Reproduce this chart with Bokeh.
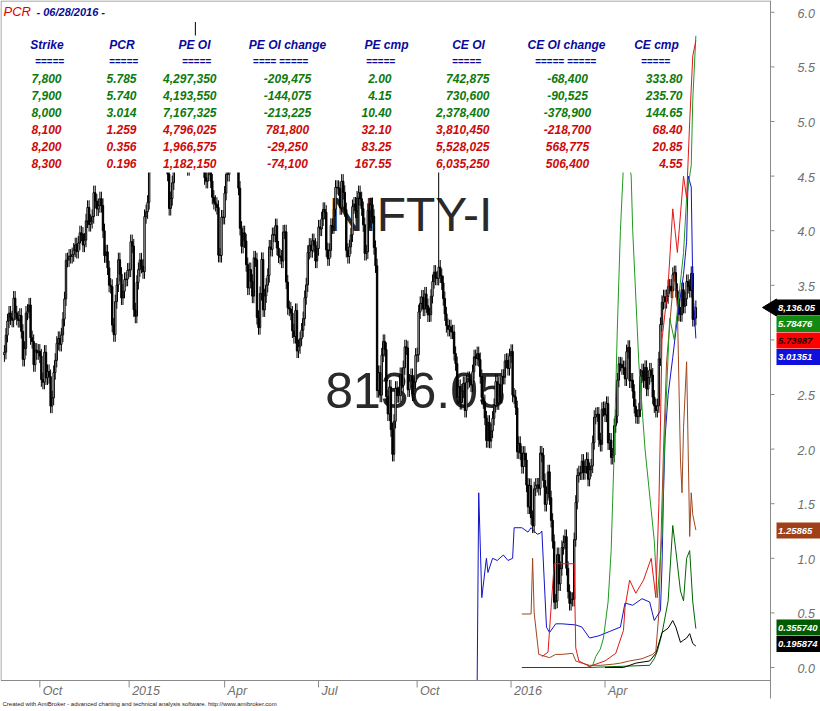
import numpy as np
import pandas as pd
from bokeh.plotting import figure
from bokeh.models import Range1d
from bokeh.core.properties import value
from bokeh.embed import file_html
from bokeh.resources import INLINE

FONT = "Liberation Sans"

# ---------------- trading calendar ----------------
holidays = ["2014-08-29", "2014-10-02", "2014-10-03", "2014-10-06", "2014-10-15", "2014-10-24",
            "2014-11-04", "2014-11-06", "2014-12-25", "2015-01-26", "2015-02-17", "2015-03-06",
            "2015-04-02", "2015-04-03", "2015-04-14", "2015-05-01", "2015-09-17", "2015-09-25",
            "2015-10-02", "2015-10-22", "2015-11-12", "2015-11-25", "2015-12-25", "2016-01-26",
            "2016-03-07", "2016-03-24", "2016-03-25", "2016-04-14", "2016-04-15", "2016-04-19"]
extra_sessions = ["2015-02-28"]

# ---------------- NIFTY-I daily closes ----------------
close_2014_08 = [7960]
close_2014_09 = [8027, 8083, 8114, 8095, 8086, 8173, 8115, 8094, 8085, 8105, 8042, 7932, 7975, 8114, 8121,
                 8146, 8017, 8002, 7911, 7968, 7958, 7964]
close_2014_10 = [7945, 7852, 7842, 7960, 7859, 7884, 7864, 7748, 7780, 7880, 7928, 7995, 8014, 7991, 8028,
                 8090, 8170, 8322]
close_2014_11 = [8324, 8338, 8337, 8344, 8362, 8383, 8357, 8390, 8430, 8425, 8382, 8401, 8477, 8530, 8463,
                 8475, 8494, 8588]
close_2014_12 = [8555, 8524, 8537, 8564, 8538, 8438, 8340, 8355, 8292, 8224, 8219, 8067, 8029, 8159, 8225,
                 8324, 8267, 8174, 8200, 8246, 8248, 8283]
close_2015_01 = [8284, 8395, 8378, 8127, 8102, 8235, 8285, 8323, 8299, 8277, 8494, 8513, 8550, 8696, 8730,
                 8762, 8836, 8910, 8914, 8952, 8809]
close_2015_02 = [8797, 8756, 8723, 8711, 8661, 8526, 8565, 8627, 8711, 8805, 8809, 8869, 8895, 8833, 8754,
                 8762, 8767, 8683, 8844, 8901]
close_2015_03 = [8956, 8996, 8923, 8937, 8756, 8712, 8699, 8776, 8647, 8633, 8723, 8685, 8634, 8570, 8550,
                 8542, 8530, 8342, 8341, 8492, 8491]
close_2015_04 = [8586, 8660, 8660, 8778, 8778, 8780, 8834, 8750, 8706, 8606, 8448, 8377, 8430, 8398, 8305,
                 8213, 8285, 8239, 8181]
close_2015_05 = [8331, 8324, 8097, 8057, 8191, 8325, 8127, 8182, 8224, 8262, 8374, 8365, 8423, 8421, 8458,
                 8370, 8339, 8334, 8319, 8433]
close_2015_06 = [8434, 8236, 8135, 8130, 8114, 8044, 8022, 8124, 7965, 7982, 8013, 8047, 8092, 8175, 8225,
                 8353, 8381, 8360, 8399, 8381, 8319, 8368]
close_2015_07 = [8453, 8445, 8485, 8522, 8511, 8363, 8328, 8361, 8459, 8454, 8523, 8609, 8609, 8604, 8529,
                 8633, 8589, 8521, 8361, 8337, 8375, 8422, 8533]
close_2015_08 = [8543, 8516, 8567, 8588, 8564, 8525, 8462, 8349, 8355, 8518, 8477, 8541, 8495, 8372, 8300,
                 7809, 7880, 7791, 7949, 8002, 7971]
close_2015_09 = [7785, 7717, 7823, 7655, 7558, 7688, 7818, 7789, 7790, 7872, 7829, 7899, 7981, 7977, 7812,
                 7846, 7868, 7796, 7843, 7948]
close_2015_10 = [7950, 8119, 8152, 8177, 8130, 8189, 8143, 8107, 8108, 8180, 8238, 8275, 8252, 8251, 8295,
                 8261, 8233, 8171, 8111, 8065]
close_2015_11 = [8050, 8060, 8040, 8040, 7955, 7915, 7783, 7825, 7762, 7807, 7837, 7731, 7842, 7856, 7849,
                 7831, 7883, 7942, 7935]
close_2015_12 = [7954, 7931, 7864, 7782, 7765, 7701, 7612, 7684, 7610, 7650, 7700, 7750, 7844, 7761, 7834,
                 7786, 7865, 7861, 7925, 7928, 7896, 7946]
close_2016_01 = [7963, 7791, 7784, 7741, 7568, 7601, 7563, 7510, 7562, 7536, 7437, 7351, 7435, 7309, 7276,
                 7422, 7436, 7437, 7424, 7563]
close_2016_02 = [7555, 7455, 7361, 7404, 7489, 7387, 7298, 7215, 6976, 6980, 7163, 7048, 7108, 7191, 7211,
                 7234, 7109, 7018, 6971, 6987, 6987]
close_2016_03 = [7222, 7369, 7475, 7485, 7485, 7531, 7486, 7510, 7538, 7460, 7498, 7512, 7604, 7704, 7714,
                 7716, 7615, 7597, 7735, 7738]
close_2016_04 = [7713, 7758, 7603, 7614, 7546, 7555, 7671, 7708, 7850, 7914, 7912, 7899, 7899, 7855, 7962,
                 7979, 7847, 7850]
close_2016_05 = [7806, 7747, 7707, 7706, 7733, 7866, 7887, 7848, 7900, 7815, 7860, 7890, 7870, 7783, 7749,
                 7731, 7749, 7934, 8069, 8156, 8178, 8160]
close_2016_06 = [8179, 8218, 8220, 8201, 8266, 8273, 8203, 8170, 8110, 8108, 8206, 8141, 8170, 8238, 8219,
                 8203, 8270, 8089, 8094, 8136.05]
first_open = 7950
spike_highs = {"2015-03-04": 9260, "2015-10-23": 8690}

# ---------------- PCR series (date, value) ----------------
pcr8000_dates = ["2015-12-01", "2015-12-02", "2015-12-04", "2015-12-09", "2015-12-10", "2015-12-15", "2015-12-18",
                 "2015-12-24", "2015-12-30", "2016-01-04", "2016-01-05", "2016-01-12", "2016-01-18", "2016-01-20",
                 "2016-01-27", "2016-01-29", "2016-02-01", "2016-02-04", "2016-02-08", "2016-02-12", "2016-02-18",
                 "2016-03-02", "2016-03-09", "2016-03-16", "2016-03-28", "2016-04-06", "2016-04-20", "2016-04-25",
                 "2016-05-02", "2016-05-10", "2016-05-17", "2016-05-20", "2016-05-26", "2016-05-27", "2016-05-30",
                 "2016-05-31", "2016-06-02", "2016-06-07", "2016-06-10", "2016-06-16", "2016-06-20", "2016-06-21",
                 "2016-06-23", "2016-06-24", "2016-06-28"]
pcr8000_vals = [-0.12, 1.60, 0.64, 1.00, 0.87, 1.00, 0.98, 1.03, 0.98, 1.00, 1.28, 1.28, 1.24, 1.28, 1.22, 1.23,
                1.25, 0.37, 0.32, 0.40, 0.40, 0.39, 0.37, 0.27, 0.29, 0.33, 0.37, 0.59, 0.57, 0.63, 0.60, 0.43,
                0.52, 0.92, 1.60, 2.10, 2.50, 2.84, 3.20, 3.60, 3.90, 4.50, 4.40, 3.50, 3.01351]

pcr8100_dates = ["2016-01-12", "2016-01-20", "2016-01-21", "2016-01-22", "2016-01-28", "2016-02-08", "2016-02-12",
                 "2016-02-18", "2016-02-29", "2016-03-02", "2016-03-09", "2016-03-16", "2016-03-29", "2016-04-08",
                 "2016-04-20", "2016-04-28", "2016-05-10", "2016-05-19", "2016-05-23", "2016-05-25", "2016-05-26",
                 "2016-05-30", "2016-06-01", "2016-06-06", "2016-06-08", "2016-06-10", "2016-06-14", "2016-06-15",
                 "2016-06-16", "2016-06-20", "2016-06-21", "2016-06-22", "2016-06-23", "2016-06-24", "2016-06-28"]
pcr8100_vals = [0.49, 0.49, 1.00, 0.50, 0.12, 0.09, 0.12, 0.12, 0.13, 0.06, 0.04, 0.02, 0.02, 0.03, 0.04, 0.06,
                0.08, 0.12, 0.15, 0.50, 1.00, 2.00, 2.80, 3.30, 3.60, 3.30, 1.90, 1.60, 2.20, 2.80, 2.00, 1.20,
                1.60, 1.40, 1.25865]

pcr7900_dates = ["2016-02-01", "2016-02-05", "2016-02-09", "2016-02-11", "2016-02-22", "2016-03-01", "2016-03-02",
                 "2016-03-04", "2016-03-16", "2016-04-01", "2016-04-12", "2016-04-22", "2016-04-25", "2016-04-28",
                 "2016-05-04", "2016-05-11", "2016-05-18", "2016-05-23", "2016-05-25", "2016-05-26", "2016-05-27",
                 "2016-06-02", "2016-06-07", "2016-06-10", "2016-06-16", "2016-06-20", "2016-06-22", "2016-06-24",
                 "2016-06-28"]
pcr7900_vals = [0.10, 0.14, 0.55, 0.95, 0.95, 0.95, 0.18, 0.06, 0.01, 0.06, 0.13, 0.34, 0.55, 0.80, 0.68, 0.80,
                1.00, 0.64, 1.50, 2.20, 3.00, 3.50, 4.20, 3.80, 4.50, 4.30, 5.00, 5.60, 5.73987]

pcr7800_dates = ["2016-03-14", "2016-03-18", "2016-03-22", "2016-03-29", "2016-03-31", "2016-04-05", "2016-04-07",
                 "2016-04-11", "2016-04-13", "2016-04-20", "2016-04-22", "2016-04-26", "2016-04-29", "2016-05-02",
                 "2016-05-06", "2016-05-12", "2016-05-20", "2016-05-24", "2016-05-27", "2016-05-31", "2016-06-03",
                 "2016-06-08", "2016-06-13", "2016-06-16", "2016-06-20", "2016-06-23", "2016-06-24", "2016-06-28"]
pcr7800_vals = [0.00, 0.02, 0.10, 0.17, 0.27, 0.60, 1.07, 2.00, 3.10, 4.00, 4.60, 4.80, 4.50, 4.00, 2.78, 2.00,
                1.16, 0.64, 1.20, 2.20, 3.20, 3.00, 3.40, 3.80, 4.30, 4.60, 5.20, 5.78476]

pcr8200_dates = ["2016-01-12", "2016-03-15", "2016-05-17", "2016-05-20", "2016-05-24", "2016-05-27", "2016-06-02",
                 "2016-06-07", "2016-06-09", "2016-06-14", "2016-06-16", "2016-06-20", "2016-06-22", "2016-06-24",
                 "2016-06-28"]
pcr8200_vals = [0.00, 0.00, 0.02, 0.08, 0.15, 0.31, 0.61, 1.30, 1.07, 0.70, 0.61, 1.00, 1.07, 0.60, 0.35574]

pcr8300_dates = ["2016-04-01", "2016-04-22", "2016-05-04", "2016-05-17", "2016-05-23", "2016-05-26", "2016-05-27",
                 "2016-06-02", "2016-06-07", "2016-06-09", "2016-06-14", "2016-06-16", "2016-06-20", "2016-06-22",
                 "2016-06-24", "2016-06-28"]
pcr8300_vals = [0.00, 0.00, 0.04, 0.06, 0.13, 0.27, 0.32, 0.36, 0.43, 0.37, 0.23, 0.25, 0.27, 0.31, 0.22, 0.195874]

# ---------------- option table ----------------
title_symbol = "PCR"
title_date = "06/28/2016"
headers = ["Strike", "PCR", "PE OI", "PE OI change", "PE cmp", "CE OI", "CE OI change", "CE cmp"]
underlines = ["=====", "=====", "=====", "==== =====", "=====", "=====", "===== =====", "====="]
strikes = [7800, 7900, 8000, 8100, 8200, 8300]
pcr = [5.785, 5.740, 3.014, 1.259, 0.356, 0.196]
pe_oi = [4297350, 4193550, 7167325, 4796025, 1966575, 1182150]
pe_oi_chg = [-209475, -144075, -213225, 781800, -29250, -74100]
pe_cmp = [2.00, 4.15, 10.40, 32.10, 83.25, 167.55]
ce_oi = [742875, 730600, 2378400, 3810450, 5528025, 6035250]
ce_oi_chg = [-68400, -90525, -378900, -218700, 568775, 506400]
ce_cmp = [333.80, 235.70, 144.65, 68.40, 20.85, 4.55]
atm_strike = 8136.05

# ---------------- axis ticks and right-hand value labels ----------------
q_dates = ["2014-10-01", "2015-01-01", "2015-04-01", "2015-07-01", "2015-10-01", "2016-01-01", "2016-04-01"]
q_labels = ["Oct", "2015", "Apr", "Jul", "Oct", "2016", "Apr"]
pcr_ticks = [0.0, 0.5, 1.0, 1.5, 2.0, 2.5, 3.0, 3.5, 4.0, 4.5, 5.0, 5.5, 6.0]
last_price = 8136.05
last_labels = ["5.78476", "5.73987", "3.01351", "1.25865", "0.355740", "0.195874"]

# ================= layout (page pixels -> data) =================
W, H = 820, 711
PX0, PPB = 3.9, 1.54        # page x of bar 0, pixels per bar
PY0, PPU = 667.0, 109.2     # page y of PCR 0, pixels per PCR unit
PRICE_PY, PPP = 307.0, 0.254  # page y of last price, pixels per index point
FR, FB = 770, 680           # plot-area right and bottom edges
AXIS = "#8a8a8a"
TICKTXT = "#6e6e6e"


def X(px):
    return (px - PX0) / PPB


def Y(py):
    return (PY0 - py) / PPU


def P(py):
    return last_price + (PRICE_PY - py) / PPP


days = pd.bdate_range("2014-08-28", "2016-06-28")
days = days.difference(pd.DatetimeIndex(holidays)).union(pd.DatetimeIndex(extra_sessions)).sort_values()

closes = np.array(close_2014_08 + close_2014_09 + close_2014_10 + close_2014_11 + close_2014_12 +
                  close_2015_01 + close_2015_02 + close_2015_03 + close_2015_04 + close_2015_05 +
                  close_2015_06 + close_2015_07 + close_2015_08 + close_2015_09 + close_2015_10 +
                  close_2015_11 + close_2015_12 + close_2016_01 + close_2016_02 + close_2016_03 +
                  close_2016_04 + close_2016_05 + close_2016_06, dtype=float)
n = min(len(closes), len(days))
closes = closes[:n]
idx = np.arange(n)
opens = np.r_[first_open, closes[:-1]]
WICK = 28
highs = np.maximum(opens, closes) + WICK
lows = np.minimum(opens, closes) - WICK
for d, h in spike_highs.items():
    k = int(days.searchsorted(pd.Timestamp(d)))
    if k < n:
        highs[k] = h
up = closes >= opens

p = figure(width=W, height=H, x_range=Range1d(X(0), X(W)), y_range=Range1d(Y(H), Y(0)),
           output_backend="svg", toolbar_location=None, min_border=0,
           x_axis_location=None, y_axis_location=None)
p.extra_y_ranges = {"price": Range1d(P(H), P(0))}
p.grid.visible = False
p.outline_line_color = None
p.background_fill_color = "white"
p.border_fill_color = "white"

# watermark
p.text(x=[X(410)], y=[Y(214)], text=["NIFTY-I"], text_align="center", text_baseline="middle",
       text_font=value(FONT), text_font_size="48px", text_color="#2a2a2a")
p.text(x=[X(415)], y=[Y(390)], text=[f"{last_price:.2f}"], text_align="center", text_baseline="middle",
       text_font=value(FONT), text_font_size="50px", text_color="#2a2a2a")

# candles
p.segment(x0=idx, y0=lows, x1=idx, y1=highs, line_color="black", line_width=1, y_range_name="price")
p.vbar(x=idx[up], bottom=opens[up], top=closes[up], width=0.9, fill_color="white", line_color="black",
       line_width=1, y_range_name="price")
p.vbar(x=idx[~up], bottom=closes[~up], top=opens[~up], width=0.9, fill_color="black", line_color="black",
       line_width=1, y_range_name="price")


def to_idx(dates):
    return [int(days.searchsorted(pd.Timestamp(d))) for d in dates]


series = [
    (pcr8200_dates, pcr8200_vals, "#006400"),
    (pcr8300_dates, pcr8300_vals, "#000000"),
    (pcr8100_dates, pcr8100_vals, "#a0461e"),
    (pcr8000_dates, pcr8000_vals, "#1414c8"),
    (pcr7800_dates, pcr7800_vals, "#1f9a1f"),
    (pcr7900_dates, pcr7900_vals, "#e01818"),
]
for ds, vs, col in series:
    p.line(to_idx(ds), vs, line_color=col, line_width=1)

# table mask
p.quad(left=[X(0.5)], right=[X(679)], top=[Y(35)], bottom=[Y(172)], fill_color="white", line_color=None)

# ---- frame and axes ----
p.segment(x0=[X(0.5), X(0.5), X(0.5)], y0=[Y(0.5), Y(0.5), Y(FB)],
          x1=[X(FR), X(0.5), X(FR)], y1=[Y(0.5), Y(FB), Y(FB)], line_color=AXIS, line_width=1)
p.segment(x0=[X(FR)], y0=[Y(0)], x1=[X(FR)], y1=[Y(698)], line_color=AXIS, line_width=1)
q_idx = to_idx(q_dates)
p.segment(x0=q_idx, y0=[Y(FB)] * len(q_idx), x1=q_idx, y1=[Y(FB + 7)] * len(q_idx),
          line_color=AXIS, line_width=1)
p.text(x=q_idx, y=[Y(690)] * len(q_idx), text=q_labels, x_offset=3, text_align="left",
       text_baseline="middle", text_font=value(FONT), text_font_style="italic", text_font_size="12.5px",
       text_color=TICKTXT)
p.segment(x0=[X(FR)] * len(pcr_ticks), y0=pcr_ticks, x1=[X(FR + 4)] * len(pcr_ticks), y1=pcr_ticks,
          line_color=AXIS, line_width=1)
p.text(x=[X(FR)] * len(pcr_ticks), y=pcr_ticks, text=[f"{t:.1f}" for t in pcr_ticks], x_offset=27, y_offset=1,
       text_align="left", text_baseline="middle", text_font=value(FONT), text_font_style="italic",
       text_font_size="12.5px", text_color=TICKTXT)

# titles
p.text(x=[X(3)], y=[Y(11)], text=[title_symbol], text_align="left", text_baseline="middle",
       text_font=value(FONT), text_font_style="italic", text_font_size="13px", text_color="#e00000")
p.text(x=[X(36)], y=[Y(11)], text=[f"- {title_date} -"], text_align="left", text_baseline="middle",
       text_font=value(FONT), text_font_style="bold italic", text_font_size="11px", text_color="#0a0a96")

NAVY = "#0a0a9a"
GREEN = "#0d7a0d"
RED = "#cc0a0a"
hdr_cx = [46.5, 121.5, 194, 287, 386, 468, 566, 656]
und_cx = [49, 123, 196, 280, 380, 466, 565, 655]
p.text(x=[X(v) for v in hdr_cx], y=[Y(44)] * 8, text=headers, text_align="center", text_baseline="middle",
       text_font=value(FONT), text_font_style="bold italic", text_font_size="12px", text_color=NAVY)
p.text(x=[X(v) for v in und_cx], y=[Y(61)] * 8, text=underlines, text_align="center", text_baseline="middle",
       text_font=value(FONT), text_font_style="bold italic", text_font_size="10px", text_color=NAVY)

row_y = [78, 95, 112, 129, 146, 163]
row_col = [GREEN if s < atm_strike - 100 else RED for s in strikes]
cols = [
    ([f"{v:,}" for v in strikes], 61, "right"),
    ([f"{v:.3f}" for v in pcr], 136, "right"),
    ([f"{v:,}" for v in pe_oi], 216, "right"),
    ([f"{v:,}" for v in pe_oi_chg], 287, "center"),
    ([f"{v:.2f}" for v in pe_cmp], 391, "right"),
    ([f"{v:,}" for v in ce_oi], 489, "right"),
    ([f"{v:,}" for v in ce_oi_chg], 567, "center"),
    ([f"{v:.2f}" for v in ce_cmp], 682, "right"),
]
for txt, cx, al in cols:
    p.text(x=[X(cx)] * len(txt), y=[Y(v) for v in row_y], text=txt, text_align=al, text_baseline="middle",
           text_font=value(FONT), text_font_style="bold italic", text_font_size="12px", text_color=row_col)

# right-side value labels
lab_y = [307, 323.5, 340, 356.5, 530, 627, 643.5]
lab_txt = [f"{last_price:,.2f}"] + last_labels
lab_bg = ["#000000", "#128a12", "#ff0000", "#1010dd", "#a0401a", "#005a00", "#000000"]
lab_fg = ["white", "white", "#2a0000", "white", "white", "white", "white"]
p.patch(x=[X(762), X(776), X(776)], y=[Y(307), Y(298.5), Y(315.5)], fill_color="black", line_color="black")
p.quad(left=[X(776)] * len(lab_y), right=[X(W + 2)] * len(lab_y), top=[Y(v - 8) for v in lab_y],
       bottom=[Y(v + 8) for v in lab_y], fill_color=lab_bg, line_color=None)
p.text(x=[X(776)] * len(lab_y), y=[Y(v) for v in lab_y], text=lab_txt, x_offset=1.5, text_align="left",
       text_baseline="middle", text_font=value(FONT), text_font_style="bold italic", text_font_size="9.5px",
       text_color=lab_fg)

# footer
p.text(x=[X(2)], y=[Y(703)], text=["Created with AmiBroker - advanced charting and technical analysis "
                                   "software. http://www.amibroker.com"], text_align="left",
       text_baseline="middle", text_font=value(FONT), text_font_size="6px", text_color="#202020")

open("out.html", "w").write(file_html(p, INLINE))
